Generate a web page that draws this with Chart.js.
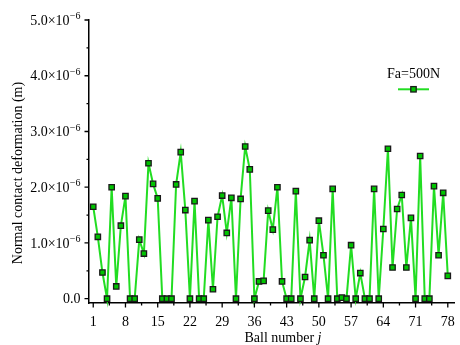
<!DOCTYPE html>
<html>
<head>
<meta charset="utf-8">
<script src="https://cdn.jsdelivr.net/npm/chart.js@4.4.0/dist/chart.umd.min.js"></script>
<style>
  html, body { margin: 0; padding: 0; background: #fff; }
</style>
</head>
<body>
<canvas id="deformChart" width="460" height="345"></canvas>
<script>
// normal contact deformation of each ball, in units of 1e-6 m (ball 1 .. 78)
var deformation = [
  1.65, 1.11, 0.47, 0.00, 2.00, 0.22, 1.31, 1.84, 0.00, 0.00,
  1.06, 0.81, 2.43, 2.06, 1.80, 0.00, 0.00, 0.00, 2.05, 2.63,
  1.59, 0.00, 1.75, 0.00, 0.00, 1.41, 0.17, 1.47, 1.85, 1.18,
  1.81, 0.00, 1.79, 2.73, 2.32, 0.00, 0.31, 0.32, 1.58, 1.24,
  2.00, 0.31, 0.00, 0.00, 1.93, 0.00, 0.39, 1.05, 0.00, 1.40,
  0.78, 0.00, 1.97, 0.00, 0.02, 0.00, 0.96, 0.00, 0.46, 0.00,
  0.00, 1.97, 0.00, 1.25, 2.69, 0.56, 1.61, 1.86, 0.56, 1.45,
  0.00, 2.56, 0.00, 0.00, 2.02, 0.78, 1.90, 0.41
];
var xTicks = [1, 8, 15, 22, 29, 36, 43, 50, 57, 64, 71, 78];
var yTicks = [0, 1, 2, 3, 4, 5];
var seriesLabel = 'Fa=500N';

var SERIF = '"Liberation Serif", "Times New Roman", serif';
var LINE_GREEN = '#22dd22';
var MARK_GREEN = '#00c400';

var points = deformation.map(function(v, i) { return { x: i + 1, y: v }; });

// ticks, tick labels, titles and legend are painted by hand
var axisDecor = {
  id: 'axisDecor',
  afterDraw: function(chart) {
    var ctx = chart.ctx;
    var xs = chart.scales.x, ys = chart.scales.y, area = chart.chartArea;
    ctx.save();

    ctx.strokeStyle = '#000';
    ctx.lineWidth = 1.3;
    ctx.beginPath();
    xTicks.forEach(function(v, i) {
      var px = xs.getPixelForValue(v);
      ctx.moveTo(px, area.bottom);
      ctx.lineTo(px, area.bottom + 4.5);
      if (i < xTicks.length - 1) {
        var mx = xs.getPixelForValue((v + xTicks[i + 1]) / 2);
        ctx.moveTo(mx, area.bottom);
        ctx.lineTo(mx, area.bottom + 2.5);
      }
    });
    yTicks.forEach(function(v, i) {
      var py = ys.getPixelForValue(v);
      ctx.moveTo(area.left, py);
      ctx.lineTo(area.left - 4.5, py);
      if (i < yTicks.length - 1) {
        var my = ys.getPixelForValue(v + 0.5);
        ctx.moveTo(area.left, my);
        ctx.lineTo(area.left - 2.5, my);
      }
    });
    ctx.stroke();

    ctx.fillStyle = '#000';
    ctx.textBaseline = 'alphabetic';

    // x tick labels
    ctx.font = '14px ' + SERIF;
    ctx.textAlign = 'center';
    xTicks.forEach(function(v) {
      ctx.fillText(String(v), xs.getPixelForValue(v), 325.5);
    });

    // y tick labels with a raised exponent
    var rightEdge = 80.5;
    yTicks.forEach(function(v) {
      var py = ys.getPixelForValue(v);
      var base = py + 4.6;
      ctx.textAlign = 'right';
      if (v === 0) {
        ctx.font = '14px ' + SERIF;
        ctx.fillText('0.0', rightEdge, base);
        return;
      }
      ctx.font = '10px ' + SERIF;
      var sup = '\u22126';
      var supW = ctx.measureText(sup).width;
      ctx.fillText(sup, rightEdge, base - 5.5);
      ctx.font = '14px ' + SERIF;
      ctx.fillText(v.toFixed(1) + '\u00d710', rightEdge - supW - 0.3, base);
    });

    // x axis title, j in italics
    ctx.textAlign = 'left';
    ctx.font = '14px ' + SERIF;
    var head = 'Ball number ';
    var headW = ctx.measureText(head).width;
    ctx.font = 'italic 14px ' + SERIF;
    var jW = ctx.measureText('j').width;
    var startX = 283 - (headW + jW) / 2;
    ctx.font = '14px ' + SERIF;
    ctx.fillText(head, startX, 341.5);
    ctx.font = 'italic 14px ' + SERIF;
    ctx.fillText('j', startX + headW, 341.5);

    // y axis title
    ctx.save();
    ctx.translate(21.5, 173);
    ctx.rotate(-Math.PI / 2);
    ctx.textAlign = 'center';
    ctx.font = '14px ' + SERIF;
    ctx.fillText('Normal contact deformation (m)', 0, 0);
    ctx.restore();

    // legend
    ctx.textAlign = 'center';
    ctx.font = '14px ' + SERIF;
    ctx.fillText(seriesLabel, 413.5, 78);
    ctx.strokeStyle = LINE_GREEN;
    ctx.lineWidth = 2;
    ctx.beginPath();
    ctx.moveTo(398, 89.3);
    ctx.lineTo(429, 89.3);
    ctx.stroke();
    ctx.fillStyle = MARK_GREEN;
    ctx.strokeStyle = '#1a1a1a';
    ctx.lineWidth = 1.3;
    ctx.fillRect(410.8, 86.6, 5.4, 5.4);
    ctx.strokeRect(410.8, 86.6, 5.4, 5.4);

    ctx.restore();
  }
};

new Chart(document.getElementById('deformChart'), {
  type: 'line',
  data: {
    datasets: [{
      label: seriesLabel,
      data: points,
      borderColor: LINE_GREEN,
      borderWidth: 2,
      tension: 0,
      pointStyle: 'rect',
      pointRadius: 3.8,
      pointBackgroundColor: MARK_GREEN,
      pointBorderColor: '#1a1a1a',
      pointBorderWidth: 1.3,
      clip: false
    }]
  },
  options: {
    responsive: false,
    animation: false,
    events: [],
    layout: { padding: { left: 0, right: 0, top: 20, bottom: 0 } },
    plugins: {
      legend: { display: false },
      tooltip: { enabled: false }
    },
    scales: {
      x: {
        type: 'linear',
        min: 0.08,
        max: 79.5,
        grid: { display: false, drawTicks: false },
        border: { display: true, color: '#000', width: 1.5 },
        ticks: { display: false },
        afterFit: function(scale) { scale.height = 42; }
      },
      y: {
        type: 'linear',
        min: -0.077,
        max: 5.0,
        grid: { display: false, drawTicks: false },
        border: { display: true, color: '#000', width: 1.5 },
        ticks: { display: false },
        afterFit: function(scale) { scale.width = 89; }
      }
    }
  },
  plugins: [axisDecor]
});
</script>
</body>
</html>
